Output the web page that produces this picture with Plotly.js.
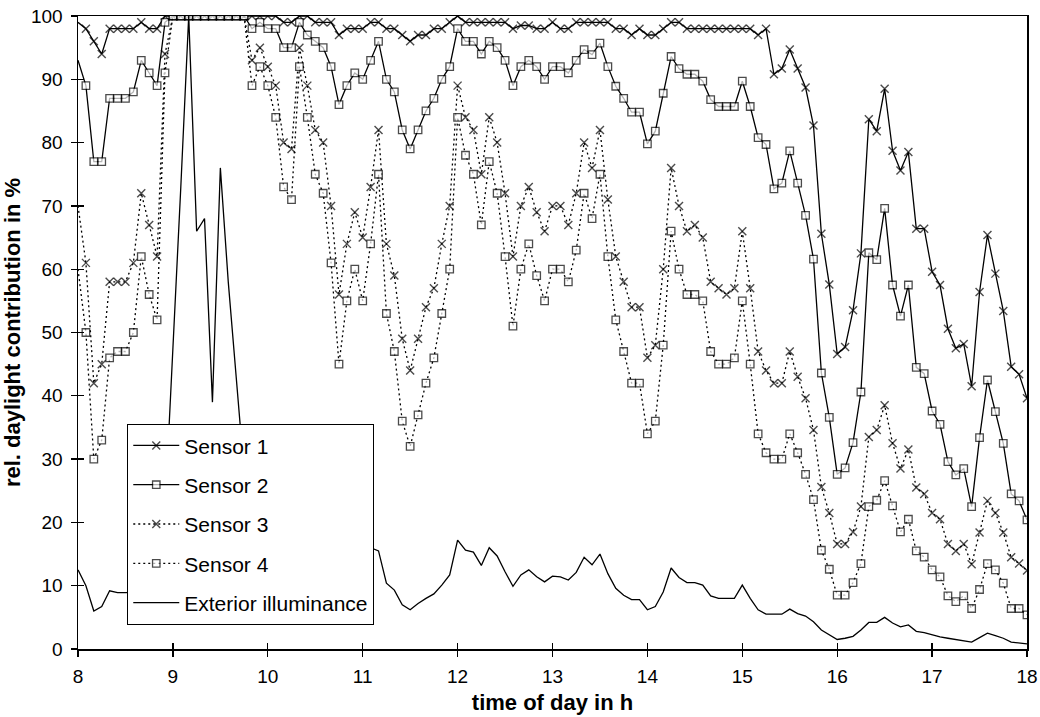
<!DOCTYPE html>
<html>
<head>
<meta charset="utf-8">
<script src="https://cdn.plot.ly/plotly-3.0.1.min.js"></script>
<style>
html,body{margin:0;padding:0;background:#fff;}
#chart{width:1040px;height:717px;}
</style>
</head>
<body>
<div id="chart"></div>
<script>
// Time axis: readings every 5 minutes from 8:00 to 18:00
const startHour = 8;
const readingsPerHour = 12;

const sensor1 = [
  99, 98, 96, 94, 98, 98, 98, 98, 99, 98, 98, 100,
  100, 100, 100, 100, 100, 100, 100, 100, 100, 100,
  100, 100, 100, 100, 99, 99, 100, 100, 99, 99, 99,
  97, 98, 98, 98, 99, 99, 98, 98, 97, 96, 97, 97,
  98, 98, 99, 100, 99, 99, 99, 99, 99, 99,
  98, 98.5, 98.5, 98, 98, 99, 98, 98, 99, 99, 99, 99,
  99, 98, 98, 97, 98, 97, 97, 98, 99, 99,
  98, 98, 98, 98, 98, 98, 98, 98, 98, 97, 98,
  90.8, 91.7, 94.7, 91.7, 88.7, 82.7, 65.6, 57.6, 46.6, 47.7, 53.5, 62.5,
  83.7, 81.8, 88.5, 78.7, 75.6, 78.5, 66.4, 66.4, 59.6, 57.5, 50.6,
  47.5, 48.2, 41.5, 56.4, 65.4, 59.3, 53.4, 44.6, 43.4, 39.6
];

const sensor2 = [
  93, 89, 77, 77, 87, 87, 87, 88, 93, 91, 89, 99,
  100, 100, 100, 100, 100, 100, 100, 100, 100, 100,
  98, 99, 98, 98, 95, 95, 99, 97, 96, 95, 92,
  86, 89, 91, 90, 93, 96, 90, 88, 82, 79, 82, 85,
  87, 90, 92, 98, 96, 96, 94, 96, 95, 93,
  89, 92, 93, 92, 90, 92, 92, 91, 93, 94.7, 93.9, 95.7,
  92, 88.9, 87, 84.8, 84.8, 79.8, 81.8, 87.8, 93.6, 91.7,
  90.8, 90.8, 89.7, 86.8, 85.7, 85.7, 85.7, 89.7, 85.7, 80.8, 79.7,
  72.7, 73.6, 78.7, 73.6, 68.5, 61.6, 43.6, 36.6, 27.6, 28.6, 32.6, 40.6,
  62.6, 61.5, 69.6, 57.5, 52.6, 57.5, 44.5, 43.5, 37.6, 35.5, 29.6,
  27.5, 28.5, 22.5, 33.4, 42.5, 37.5, 32.5, 24.5, 23.4, 20.4
];

const sensor3 = [
  70, 61, 42, 45, 58, 58, 58, 61, 72, 67, 62, 94,
  100, 100, 100, 100, 100, 100, 100, 100, 100, 100,
  93, 95, 92, 89, 80, 79, 95, 89, 82, 80, 70,
  56, 64, 69, 65, 73, 82, 64, 59, 49, 44, 49, 54,
  57, 64, 70, 89, 84, 82, 75, 84, 80, 72,
  62, 70, 73, 69, 66, 70, 70, 67, 72, 80, 76, 82,
  71, 62, 58, 54, 54, 46, 48, 60, 76, 70,
  66, 67, 65, 58, 57, 56, 57, 66, 57, 47, 44,
  42, 42, 47, 43, 39.6, 34.6, 25.6, 21.5, 16.6, 16.6, 18.5, 22.5,
  33.5, 34.6, 38.5, 32.5, 28.5, 31.5, 25.5, 24.5, 21.5, 20.5, 16.6,
  15.5, 16.6, 13.4, 18.4, 23.4, 21.5, 18.4, 14.5, 13.5, 12.4
];

const sensor4 = [
  60, 50, 30, 33, 46, 47, 47, 50, 62, 56, 52, 91,
  100, 100, 100, 100, 100, 100, 100, 100, 100, 100,
  89, 92, 89, 84, 73, 71, 92, 84, 75, 72, 61,
  45, 55, 60, 55, 64, 75, 53, 47, 36, 32, 37, 42,
  46, 53, 60, 84, 78, 75, 67, 77, 72, 62,
  51, 60, 64, 59, 55, 60, 60, 58, 63, 72, 68, 75,
  62, 52, 47, 42, 42, 34, 36, 48, 66, 60,
  56, 56, 55, 47, 45, 45, 46, 55, 45, 34, 31,
  30, 30, 34, 31, 27.6, 23.6, 15.6, 12.6, 8.5, 8.5, 10.5, 13.5,
  22.5, 23.5, 26.6, 22.6, 18.5, 20.5, 15.5, 14.5, 12.5, 11.4, 8.4,
  7.5, 8.4, 6.4, 9.4, 13.5, 12.5, 10.4, 6.4, 6.4, 5.4
];

const exterior = [
  12.5, 10, 6, 6.7, 9.2, 8.9, 8.9, 9, 9, 10, 14, 22,
  47, 73, 100, 66, 68, 39, 76, 58, 43, 28,
  25, 22, 20, 18, 17, 16, 15, 14, 13, 13, 12,
  12, 13, 14, 15, 16, 15.5, 10.4, 9.3, 7, 6.2, 7.2, 8,
  8.7, 10.1, 11.7, 17.2, 15.6, 15.3, 13.2, 16, 14.7, 12.2,
  9.9, 11.7, 12.5, 11.4, 10.6, 11.5, 11.4, 10.9, 12.1, 14.5, 13.3, 15,
  11.9, 9.6, 8.5, 7.8, 7.8, 6.2, 6.7, 9, 12.8, 11.3,
  10.5, 10.5, 10.1, 8.4, 8, 8, 8, 10.1, 8, 6.2, 5.5,
  5.5, 5.5, 6.3, 5.6, 5.2, 4.3, 3, 2.2, 1.5, 1.7, 2, 3,
  4.2, 4.2, 5, 4.1, 3.5, 3.8, 2.8, 2.6, 2.2, 1.9, 1.7,
  1.5, 1.4, 1.1, 1.8, 2.5, 2.1, 1.7, 1.1, 1, 0.8
];

const seriesNames = ['Sensor 1', 'Sensor 2', 'Sensor 3', 'Sensor 4', 'Exterior illuminance'];
const xTickValues = [8, 9, 10, 11, 12, 13, 14, 15, 16, 17, 18];
const yTickValues = [0, 10, 20, 30, 40, 50, 60, 70, 80, 90, 100];

const times = sensor1.map((_, i) => startHour + i / readingsPerHour);

const FONT = 'Arial, "Liberation Sans", Helvetica, sans-serif';

function markerSizes(s) {
  // first reading sits on the axis and shows no marker in the original
  return times.map((_, i) => (i === 0 ? 0 : s));
}

function sensorTrace(name, y, dash, kind) {
  const isCross = kind === 'cross';
  return {
    type: 'scatter',
    mode: 'lines+markers',
    name: name,
    legendgroup: name,
    x: times,
    y: y,
    line: {color: '#000', width: 1.3, dash: dash},
    marker: isCross
      ? {symbol: 'x-thin', size: markerSizes(8), color: '#000', line: {color: '#000', width: 1.4}}
      : {symbol: 'square', size: markerSizes(7.5), color: '#fff', line: {color: '#000', width: 1.3}},
    hoverinfo: 'x+y+name'
  };
}

const data = [
  sensorTrace(seriesNames[0], sensor1, 'solid', 'cross'),
  sensorTrace(seriesNames[1], sensor2, 'solid', 'square'),
  sensorTrace(seriesNames[2], sensor3, '2px,3px', 'cross'),
  sensorTrace(seriesNames[3], sensor4, '2px,3px', 'square'),
  {
    type: 'scatter', mode: 'lines', name: seriesNames[4], legendgroup: seriesNames[4],
    x: times, y: exterior,
    line: {color: '#000', width: 1.3}
  },
  {
    type: 'scatter', mode: 'markers', x: [], y: [], xaxis: 'x2', yaxis: 'y2',
    showlegend: false, hoverinfo: 'skip'
  }
];

const axisCommon = {
  showgrid: false, zeroline: false,
  tickcolor: '#000', tickwidth: 1.3, ticklen: 6,
  tickfont: {family: FONT, size: 19, color: '#000'}
};

const layout = {
  width: 1040, height: 717,
  margin: {l: 78, r: 13, t: 16, b: 68, pad: 0},
  paper_bgcolor: '#fff', plot_bgcolor: '#fff',
  font: {family: FONT, color: '#000'},
  showlegend: true,
  xaxis: Object.assign({}, axisCommon, {
    range: [8, 18], tickmode: 'array', tickvals: xTickValues, ticktext: xTickValues.map(String),
    showline: true, linecolor: '#000', linewidth: 1.5, mirror: true,
    ticks: 'outside', ticklabelstandoff: 4,
    title: {text: 'time of day in h', font: {family: FONT, size: 22, weight: 'bold', color: '#000'}, standoff: 8}
  }),
  yaxis: Object.assign({}, axisCommon, {
    range: [0, 100], tickmode: 'array', tickvals: yTickValues, ticktext: yTickValues.map(String),
    showline: true, linecolor: '#000', linewidth: 1.5, mirror: true,
    ticks: 'outside', ticklabelstandoff: 4,
    title: {text: 'rel. daylight contribution in %', font: {family: FONT, size: 22, weight: 'bold', color: '#000'}, standoff: 4}
  }),
  xaxis2: Object.assign({}, axisCommon, {
    overlaying: 'x', anchor: 'y', range: [8, 18], tickmode: 'array', tickvals: xTickValues,
    ticks: 'inside', showticklabels: false, showline: false
  }),
  yaxis2: Object.assign({}, axisCommon, {
    overlaying: 'y', anchor: 'x', range: [0, 100], tickmode: 'array', tickvals: yTickValues,
    ticks: 'inside', showticklabels: false, showline: false
  }),
  legend: {
    x: 0.0516, y: 0.3555, xanchor: 'left', yanchor: 'top',
    bgcolor: '#fff', bordercolor: '#000', borderwidth: 1.3,
    font: {family: FONT, size: 21, color: '#000'},
    tracegroupgap: 9, itemwidth: 46, traceorder: 'grouped'
  }
};

Plotly.newPlot('chart', data, layout, {displayModeBar: false, staticPlot: true});
</script>
</body>
</html>
